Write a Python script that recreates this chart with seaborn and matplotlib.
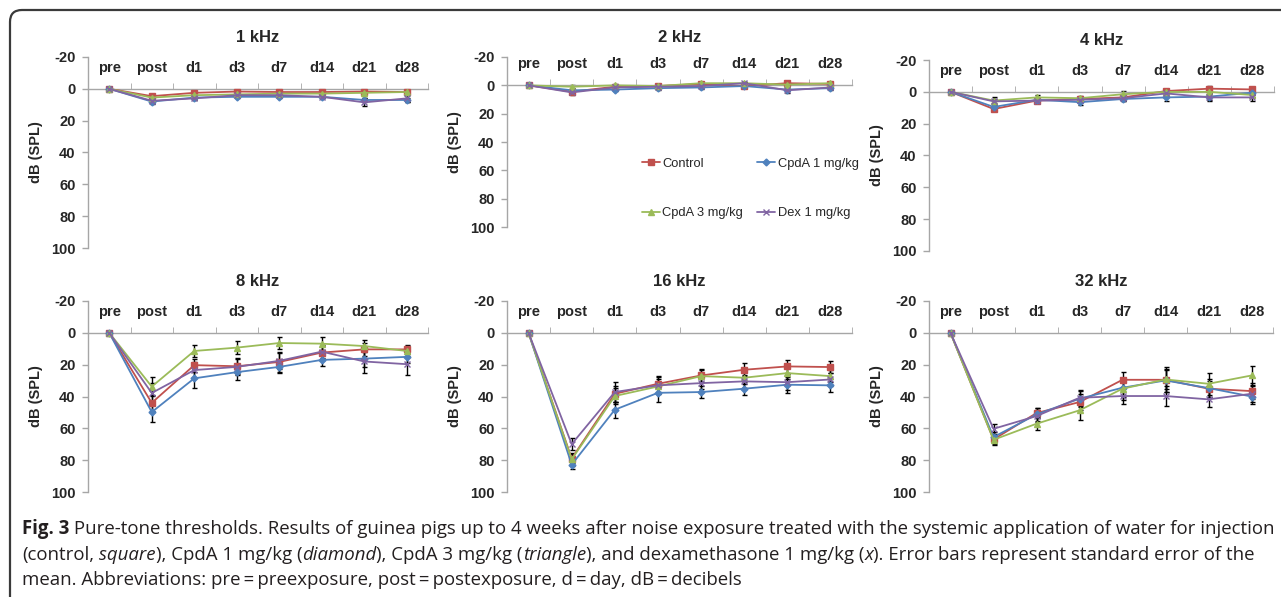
import matplotlib
matplotlib.use("Agg")
import numpy as np
import pandas as pd
import matplotlib.pyplot as plt
from matplotlib.patches import FancyBboxPatch
import seaborn as sns

# time points / groups
times = ["pre", "post", "d1", "d3", "d7", "d14", "d21", "d28"]
groups = ["Control", "CpdA 1 mg/kg", "CpdA 3 mg/kg", "Dex 1 mg/kg"]
colors = ["#C0504D", "#4F81BD", "#9BBB59", "#8064A2"]
markers = ["s", "D", "^", "x"]
freqs = ["1 kHz", "2 kHz", "4 kHz", "8 kHz", "16 kHz", "32 kHz"]

# mean threshold shift (dB SPL)
mean_1k = {"Control": [0, 4.6, 2.5, 1.7, 2.0, 2.0, 1.7, 2.0],
           "CpdA 1 mg/kg": [0, 8.0, 5.5, 5.0, 5.0, 5.0, 7.0, 7.0],
           "CpdA 3 mg/kg": [0, 5.5, 4.0, 3.5, 3.0, 3.0, 2.5, 2.0],
           "Dex 1 mg/kg": [0, 7.5, 6.0, 4.0, 4.0, 5.0, 8.5, 6.0]}
se_1k = {"Control": [0, 1, 1, 1, 1, 1, 1, 1],
         "CpdA 1 mg/kg": [0, 1.5, 1, 1, 1, 1, 1.5, 1],
         "CpdA 3 mg/kg": [0, 1, 1, 1, 1, 1, 1, 1],
         "Dex 1 mg/kg": [0, 1.5, 1, 1, 1, 1, 2.5, 2]}

mean_2k = {"Control": [0, 4.5, 1.0, 0.5, -1.0, 0.5, -1.5, -1.0],
           "CpdA 1 mg/kg": [0, 3.5, 3.0, 2.0, 1.5, 0.5, 3.0, 2.0],
           "CpdA 3 mg/kg": [0, 1.0, 0.0, 0.5, -1.5, -1.5, -0.5, -1.5],
           "Dex 1 mg/kg": [0, 5.0, 1.5, 1.0, 0.5, -1.5, 3.5, 1.5]}
se_2k = {"Control": [0, 1, 1, 1, 1, 1, 1, 1],
         "CpdA 1 mg/kg": [0, 1, 1, 1, 1, 1, 1, 1],
         "CpdA 3 mg/kg": [0, 1, 1, 1, 1, 1, 1, 1],
         "Dex 1 mg/kg": [0, 2, 1, 1, 1, 1, 2, 1]}

mean_4k = {"Control": [0, 10.8, 5.5, 4.5, 3.5, -0.5, -2.0, -1.5],
           "CpdA 1 mg/kg": [0, 9.5, 5.0, 6.5, 4.5, 3.5, 3.0, 0.5],
           "CpdA 3 mg/kg": [0, 5.5, 3.5, 4.0, 1.5, 0.0, 0.0, 2.0],
           "Dex 1 mg/kg": [0, 6.0, 5.5, 5.0, 4.0, 1.0, 3.5, 3.5]}
se_4k = {"Control": [0, 1.5, 1.5, 1.5, 1.5, 1.5, 1.5, 1.5],
         "CpdA 1 mg/kg": [0, 1.5, 1.5, 2, 1.5, 2, 2, 1.5],
         "CpdA 3 mg/kg": [0, 2, 1.5, 1.5, 2, 1.5, 1.5, 1.5],
         "Dex 1 mg/kg": [0, 1.5, 1.5, 1.5, 2, 1.5, 2, 2]}

mean_8k = {"Control": [0, 44, 20.3, 21, 18.3, 12.4, 10.4, 10.4],
           "CpdA 1 mg/kg": [0, 49.8, 28.6, 24.7, 21.4, 17, 16.2, 15.1],
           "CpdA 3 mg/kg": [0, 33.8, 11.4, 9.3, 6.4, 6.8, 8.3, 11.4],
           "Dex 1 mg/kg": [0, 37.8, 23.4, 21.4, 17.6, 11.8, 18, 19.7]}
se_8k = {"Control": [0, 5, 4, 5, 6, 4, 4, 3],
         "CpdA 1 mg/kg": [0, 6, 6, 5, 4, 4, 5, 4],
         "CpdA 3 mg/kg": [0, 6, 4, 4, 4, 4, 4, 3],
         "Dex 1 mg/kg": [0, 6, 5, 5, 5, 4, 7, 7]}

mean_16k = {"Control": [0, 79, 38.3, 32, 26.8, 23.2, 21.1, 21.5],
            "CpdA 1 mg/kg": [0, 82.8, 48.3, 37.7, 37.2, 35.1, 32.6, 33],
            "CpdA 3 mg/kg": [0, 79.5, 39.7, 33.7, 27.2, 28.2, 25.3, 27.2],
            "Dex 1 mg/kg": [0, 69.9, 37.2, 33, 31.6, 30.5, 31, 29.3]}
se_16k = {"Control": [0, 3, 5, 5, 4, 4, 4, 4],
          "CpdA 1 mg/kg": [0, 3, 5, 6, 4, 4, 5, 4],
          "CpdA 3 mg/kg": [0, 4, 5, 5, 4, 4, 4, 4],
          "Dex 1 mg/kg": [0, 4, 6, 5, 4, 4, 5, 4]}

mean_32k = {"Control": [0, 67, 50.4, 43.5, 29.5, 29.5, 35.1, 36.6],
            "CpdA 1 mg/kg": [0, 65.5, 51.3, 41.4, 34.5, 29.9, 34.7, 40],
            "CpdA 3 mg/kg": [0, 67.2, 57.1, 48.7, 35.1, 29.3, 32, 26.8],
            "Dex 1 mg/kg": [0, 60.3, 52.3, 40.8, 39.7, 39.7, 41.8, 38.3]}
se_32k = {"Control": [0, 3, 3, 5, 5, 6, 5, 5],
          "CpdA 1 mg/kg": [0, 3, 4, 5, 6, 7, 6, 5],
          "CpdA 3 mg/kg": [0, 3, 4, 6, 7, 8, 7, 6],
          "Dex 1 mg/kg": [0, 3, 4, 5, 5, 6, 5, 5]}

means = [mean_1k, mean_2k, mean_4k, mean_8k, mean_16k, mean_32k]
ses = [se_1k, se_2k, se_4k, se_8k, se_16k, se_32k]

sns.set_style("white")
plt.rcParams["font.family"] = ["Liberation Sans", "DejaVu Sans"]
plt.rcParams["axes.unicode_minus"] = False
cap_font = ["Open Sans", "DejaVu Sans"]

W, H = 1281, 597
fig = plt.figure(figsize=(W / 100, H / 100), dpi=100)

# axes boxes in pixels: left, top(-20), right, bottom(100)
boxes = [(88, 57, 428, 248), (507, 57, 852, 227), (929, 60, 1274, 251),
         (88, 301, 428, 492), (507, 301, 852, 492), (929, 301, 1273, 492)]

gray = "#A6A6A6"
x = np.arange(len(times))
for i, (l, t, r, b) in enumerate(boxes):
    ax = fig.add_axes([l / W, 1 - b / H, (r - l) / W, (b - t) / H])
    for g, c, m in zip(groups, colors, markers):
        y = means[i][g]
        e = ses[i][g]
        ax.errorbar(x, y, yerr=e, fmt="none", ecolor="black", elinewidth=1,
                    capsize=1.8, capthick=1, zorder=2)
        sns.lineplot(x=x, y=y, color=c, marker=m, markersize=4.5 if m != "D" else 3.5,
                     markeredgecolor=c, markeredgewidth=1, linewidth=1.3, ax=ax,
                     zorder=3, legend=False)
    ax.set_xlim(-0.5, 7.5)
    ax.set_ylim(100, -20)
    ax.set_yticks(range(-20, 101, 20))
    ax.set_xticks(x)
    ax.set_xticklabels(times)
    ax.set_xticks(np.arange(0.5, 8, 1), minor=True)
    ax.xaxis.tick_top()
    ax.spines["top"].set_position(("data", 0))
    ax.spines["bottom"].set_visible(False)
    ax.spines["right"].set_visible(False)
    for s in ("top", "left"):
        ax.spines[s].set_color(gray)
        ax.spines[s].set_linewidth(1)
    ax.tick_params(axis="x", which="major", length=0, pad=10, labelsize=10.5)
    ax.tick_params(axis="x", which="minor", length=4, color=gray, direction="out")
    ax.tick_params(axis="y", length=4, color=gray, width=1, pad=5, labelsize=10.5,
                   left=True)
    for lab in ax.get_xticklabels() + ax.get_yticklabels():
        lab.set_fontweight("bold")
    ax.set_xlabel("")
    ax.set_ylabel("dB (SPL)", fontsize=10.5, fontweight="bold", labelpad=6)
    ax.set_title(freqs[i], fontsize=12, fontweight="bold", pad=11)
    ax.grid(False)
    ax.set_facecolor("none")
    if i == 1:
        order = [0, 2, 1, 3]  # legend fills by column -> rows read Control, CpdA 1 / CpdA 3, Dex
        handles = [plt.Line2D([], [], color=colors[k], marker=markers[k],
                              markersize=4.5 if markers[k] != "D" else 3.5,
                              markeredgecolor=colors[k], linewidth=1.3)
                   for k in order]
        fig.legend(handles, [groups[k] for k in order], loc="upper left", ncol=2,
                   bbox_to_anchor=(630 / W, 1 - 146 / H), frameon=False,
                   fontsize=9.3, handlelength=1.4, handletextpad=0.2,
                   labelspacing=2.9, columnspacing=1.1)

# rounded frame around the figure
frame = FancyBboxPatch((10, -30), W + 40, H + 30 - 10,
                       boxstyle="round,pad=0,rounding_size=12", transform=None,
                       facecolor="none", edgecolor="#3A3A3A", linewidth=1.6,
                       figure=fig)
fig.patches.append(frame)

# caption with mixed styles
caption = [
    [("Fig. 3", {"fontweight": "bold"}),
     (" Pure-tone thresholds. Results of guinea pigs up to 4 weeks after noise exposure "
      "treated with the systemic application of water for injection", {})],
    [("(control,", {}), (" square", {"style": "italic"}), ("), CpdA 1 mg/kg (", {}),
     ("diamond", {"style": "italic"}), ("), CpdA 3 mg/kg (", {}),
     ("triangle", {"style": "italic"}), ("), and dexamethasone 1 mg/kg (", {}),
     ("x", {"style": "italic"}),
     ("). Error bars represent standard error of the", {})],
    [("mean. Abbreviations: pre\u2009=\u2009preexposure, post\u2009=\u2009postexposure, "
      "d\u2009=\u2009day, dB\u2009=\u2009decibels", {})],
]
baselines = [534, 560, 585]
rend = fig.canvas.get_renderer()
for runs, yb in zip(caption, baselines):
    xp = 22
    for txt, kw in runs:
        tx = fig.text(xp / W, 1 - yb / H, txt, fontsize=13.4, family=cap_font,
                      va="baseline", ha="left", color="#231F20", **kw)
        xp += tx.get_window_extent(renderer=rend).width
    print(yb, "line ends at", xp)

fig.savefig("out.png", dpi=100)
